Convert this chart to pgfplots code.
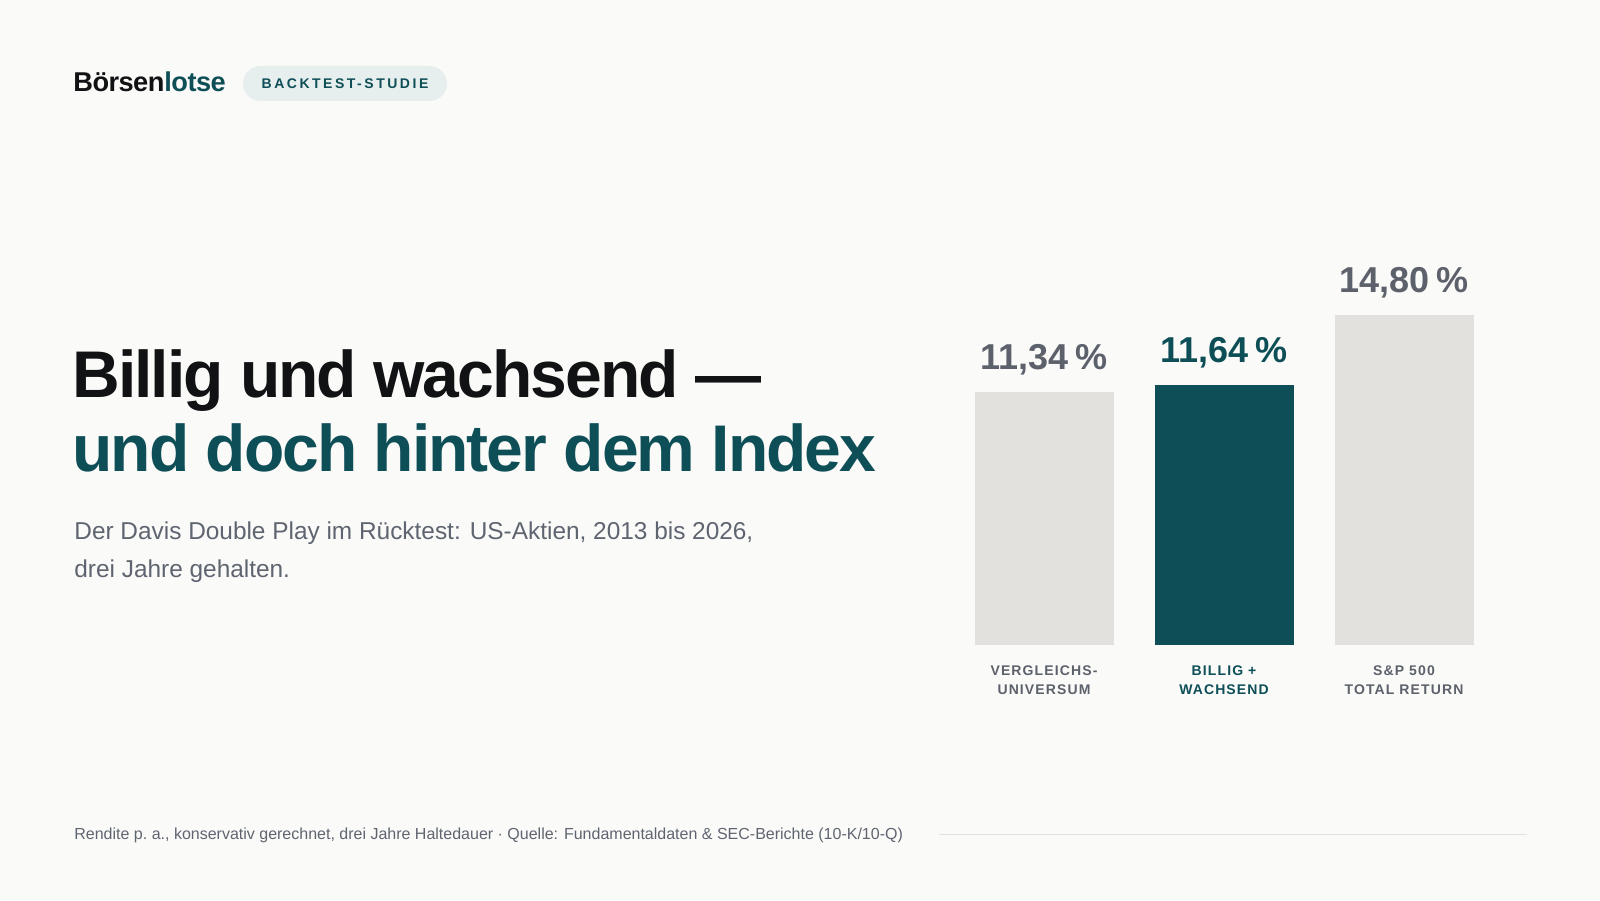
\documentclass[border=0pt]{standalone}
\usepackage{pgfplots}
\pgfplotsset{compat=1.18}
\usepackage{fontspec}
\setmainfont{Liberation Sans}
\newfontfamily\titlefont[LetterSpace=-3]{Liberation Sans}
\newfontfamily\catfont[LetterSpace=8]{Liberation Sans}
\newfontfamily\badgefont[LetterSpace=18]{Liberation Sans}
\newfontfamily\logofont[LetterSpace=-2]{Liberation Sans}
\definecolor{bg}{HTML}{FAFAF8}
\definecolor{brandteal}{HTML}{0E4F57}
\definecolor{ink}{HTML}{111213}
\definecolor{valgrey}{HTML}{5C616B}
\definecolor{subgrey}{HTML}{5F6570}
\definecolor{bargrey}{HTML}{E2E1DD}
\definecolor{badgefill}{HTML}{E6EEEE}
\definecolor{rulegrey}{HTML}{E2E2DF}
\begin{document}
\begin{tikzpicture}
\fill[bg] (0pt,0pt) rectangle (800pt,450pt);
% logo
\node[anchor=base west, inner sep=0pt] at (36.5pt,404pt) {\logofont\bfseries\fontsize{13.6}{16}\selectfont\textcolor{ink}{Börsen}\textcolor{brandteal}{lotse}};
% badge
\fill[badgefill, rounded corners=8.75pt] (121.5pt,417pt) rectangle (223.5pt,399.5pt);
\node[anchor=center, inner sep=0pt, text=brandteal] at (172.5pt,408.25pt) {\badgefont\bfseries\fontsize{7}{8}\selectfont BACKTEST-STUDIE};
% title
\node[anchor=base west, inner sep=0pt, text=ink] at (36pt,251pt) {\titlefont\bfseries\fontsize{33}{36}\selectfont Billig und wachsend —};
\node[anchor=base west, inner sep=0pt, text=brandteal] at (36pt,214.25pt) {\titlefont\bfseries\fontsize{33}{36}\selectfont und doch hinter dem Index};
% subtitle
\node[anchor=base west, inner sep=0pt, text=subgrey] at (37pt,180pt) {\fontsize{12.2}{14}\selectfont Der Davis Double Play im Rücktest: US-Aktien, 2013 bis 2026,};
\node[anchor=base west, inner sep=0pt, text=subgrey] at (37pt,161.25pt) {\fontsize{12.2}{14}\selectfont drei Jahre gehalten.};
% footer
\node[anchor=base west, inner sep=0pt, text=subgrey] at (37pt,30.5pt) {\fontsize{8}{9}\selectfont Rendite p.\ a., konservativ gerechnet, drei Jahre Haltedauer · Quelle: Fundamentaldaten \& SEC-Berichte (10-K/10-Q)};
\draw[rulegrey, line width=0.5pt] (469.5pt,33pt) -- (763.5pt,33pt);
% chart
\begin{axis}[at={(477pt,127.5pt)}, anchor=south west, scale only axis,
  width=270pt, height=178.4pt,
  xmin=-0.5, xmax=2.5, ymin=0, ymax=16,
  ybar, bar width=69.5pt, bar shift=0pt,
  axis line style={draw=none}, tick style={draw=none},
  ytick=\empty, xtick={0,1,2},
  xticklabels={{\textcolor{valgrey}{VERGLEICHS-}\\\textcolor{valgrey}{UNIVERSUM}},
               {\textcolor{brandteal}{BILLIG +}\\\textcolor{brandteal}{WACHSEND}},
               {\textcolor{valgrey}{S\&P 500}\\\textcolor{valgrey}{TOTAL RETURN}}},
  xticklabel style={font=\catfont\bfseries\fontsize{7}{9.5}\selectfont, align=center, anchor=north, inner sep=0pt, yshift=-6pt},
  nodes near coords={\pgfmathprintnumber[assume math mode=true,fixed,fixed zerofill,precision=2,use comma]{\pgfplotspointmeta}\hspace{0.2em}\%},
  every node near coord/.append style={font=\bfseries\fontsize{18}{20}\selectfont, anchor=base, inner sep=0pt, yshift=11.25pt},
  clip=false]
\addplot[fill=bargrey, draw=none, every node near coord/.append style={text=valgrey}] coordinates {(0,11.34)};
\addplot[fill=brandteal, draw=none, every node near coord/.append style={text=brandteal}] coordinates {(1,11.64)};
\addplot[fill=bargrey, draw=none, every node near coord/.append style={text=valgrey}] coordinates {(2,14.80)};
\end{axis}
\end{tikzpicture}
\end{document}
